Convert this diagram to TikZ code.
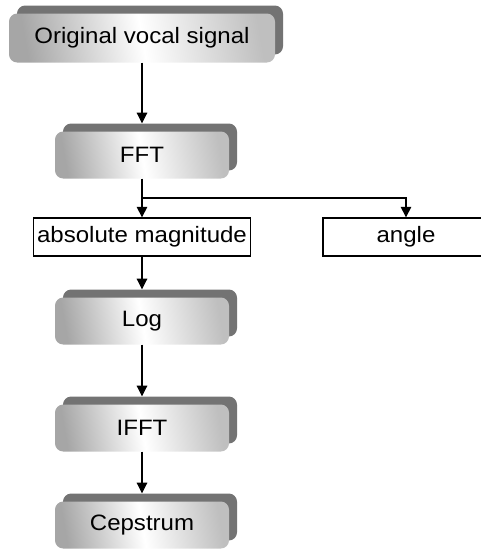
\documentclass[tikz,border=0pt]{standalone}
\usepackage{fontspec}
\setmainfont{Liberation Sans}[FakeStretch=1.08]
\usetikzlibrary{arrows.meta,shadows}

\tikzset{
  stage/.style={rounded corners=7pt, minimum width=174*0.03cm, minimum height=47*0.03cm,
    left color=black!35, right color=black!25, middle color=white, shading angle=100,
    general shadow={fill=black!55, shadow xshift=8*0.03cm, shadow yshift=8*0.03cm}},
  part/.style={draw, line width=1.1pt, minimum height=38*0.03cm},
  flow/.style={-{Triangle[length=9pt,width=9pt]}, line width=0.9pt}
}

\begin{document}
\begin{tikzpicture}[x=0.03cm, y=-0.03cm, font=\fontsize{19pt}{22pt}\selectfont]
\useasboundingbox (0,0) rectangle (481,551);

\node[stage, minimum width=266*0.03cm, minimum height=49*0.03cm] (orig) at (142,38) {Original vocal signal};
\node[stage] (fft) at (142,155) {FFT};
\node[part, minimum width=215*0.03cm] (abs) at (142,237) {absolute magnitude};
\node[part, minimum width=166*0.03cm] (angle) at (406,237) {angle};
\node[stage] (log) at (142,321) {Log};
\node[stage] (ifft) at (142,428) {IFFT};
\node[stage] (cep) at (142,525) {Cepstrum};

\coordinate (split) at (142,198);

\draw [flow] (orig) -- ([yshift=8*0.03cm]fft.north);
\draw [flow] (fft) -- (abs);
\draw [flow] (split) -| (angle);
\draw [flow] (abs) -- ([yshift=8*0.03cm]log.north);
\draw [flow] (log) -- ([yshift=8*0.03cm]ifft.north);
\draw [flow] (ifft) -- ([yshift=8*0.03cm]cep.north);
\end{tikzpicture}
\end{document}
